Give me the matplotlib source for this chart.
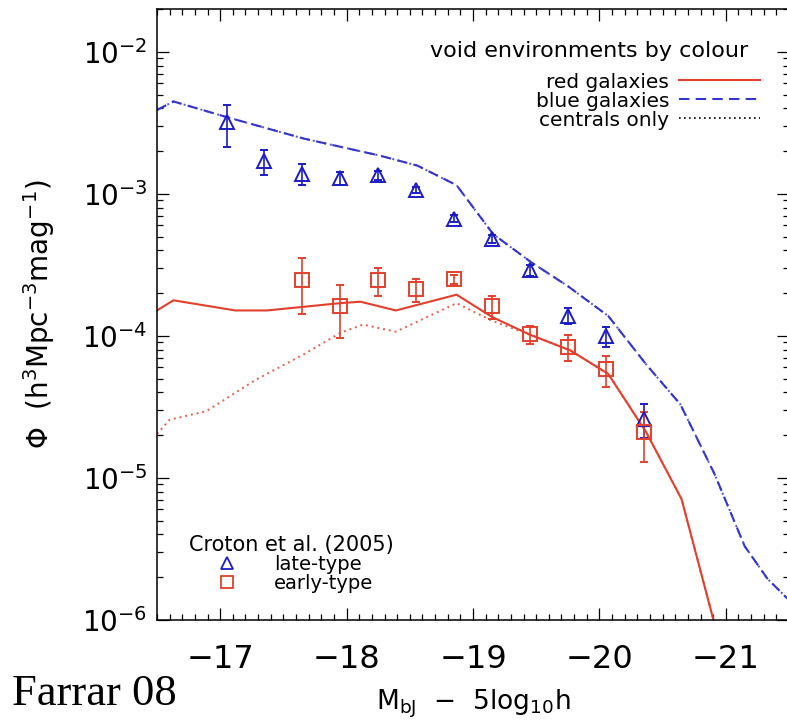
import numpy as np
import matplotlib
matplotlib.use("Agg")
import matplotlib.pyplot as plt
from matplotlib.lines import Line2D
from matplotlib.ticker import MultipleLocator, LogLocator

plt.rcParams.update({
    "font.family": "DejaVu Sans",
    "mathtext.fontset": "dejavusans",
    "axes.linewidth": 1.1,
})

RED = "#e2402c"
BLUE = "#1c1cc4"
BLUE_L = "#3535cf"

# model LFs in voids (magnitude, phi)
red_mag = [-16.50, -16.63, -17.12, -17.37, -17.95, -18.11, -18.39, -18.87,
           -19.15, -19.45, -19.77, -20.07, -20.37, -20.65, -20.90, -21.00]
red_phi = [1.51e-4, 1.78e-4, 1.51e-4, 1.51e-4, 1.70e-4, 1.74e-4, 1.51e-4, 1.95e-4,
           1.36e-4, 1.02e-4, 7.9e-5, 5.4e-5, 2.1e-5, 7.1e-6, 1.02e-6, 4.0e-7]

red_cen_mag = [-16.50, -16.60, -16.89, -17.28, -17.66, -17.95, -18.13, -18.39,
               -18.87, -19.14, -19.45, -19.77, -20.07, -20.37, -20.65, -20.90, -21.00]
red_cen_phi = [2.04e-5, 2.57e-5, 2.95e-5, 4.9e-5, 7.4e-5, 1.05e-4, 1.20e-4, 1.07e-4,
               1.70e-4, 1.29e-4, 1.02e-4, 7.9e-5, 5.4e-5, 2.1e-5, 7.1e-6, 1.02e-6, 4.0e-7]

blue_mag = [-16.50, -16.63, -17.05, -17.66, -18.26, -18.56, -18.87, -19.16, -19.46,
            -19.75, -20.07, -20.37, -20.64, -20.91, -21.15, -21.33, -21.50]
blue_phi = [3.89e-3, 4.47e-3, 3.47e-3, 2.45e-3, 1.86e-3, 1.58e-3, 1.15e-3, 5.2e-4, 3.3e-4,
            2.24e-4, 1.38e-4, 6.3e-5, 3.3e-5, 1.07e-5, 3.3e-6, 1.95e-6, 1.38e-6]
# blue centrals sit on top of the full blue LF
blue_cen_phi = list(blue_phi)

# Croton et al. (2005) void LFs
late_mag = [-17.05, -17.35, -17.65, -17.95, -18.25, -18.55, -18.85, -19.15,
            -19.45, -19.75, -20.05, -20.35]
late_phi = [3.2e-3, 1.7e-3, 1.38e-3, 1.29e-3, 1.35e-3, 1.06e-3, 6.7e-4, 4.8e-4,
            2.9e-4, 1.39e-4, 1.0e-4, 2.6e-5]
late_err = [1.05e-3, 3.5e-4, 2.3e-4, 1.3e-4, 1.0e-4, 5e-5, 4e-5, 3e-5,
            2.5e-5, 1.8e-5, 1.6e-5, 7e-6]

early_mag = [-17.65, -17.95, -18.25, -18.55, -18.85, -19.15, -19.45, -19.75, -20.05, -20.35]
early_phi = [2.47e-4, 1.62e-4, 2.47e-4, 2.13e-4, 2.5e-4, 1.62e-4, 1.03e-4, 8.4e-5, 5.8e-5, 2.1e-5]
early_err = [1.05e-4, 6.6e-5, 5.5e-5, 4.0e-5, 2.0e-5, 3.0e-5, 1.5e-5, 1.7e-5, 1.4e-5, 8e-6]

fig = plt.figure(figsize=(7.87, 7.22), dpi=100)
ax = fig.add_axes([157 / 787, 1 - 620 / 722, 632 / 787, 611 / 722])

ax.plot(red_mag, red_phi, color=RED, lw=1.5)
ax.plot(red_cen_mag, red_cen_phi, color=RED, lw=1.4, ls=(0, (1, 2)), alpha=0.85)
ax.plot(blue_mag, blue_phi, color=BLUE_L, lw=1.5, dashes=(5, 3))
ax.plot(blue_mag, blue_cen_phi, color=BLUE_L, lw=1.4, ls=(0, (1, 2)), alpha=0.85)

ax.errorbar(late_mag, late_phi, yerr=late_err, fmt="^", ms=10, mfc="none", mec=BLUE,
            mew=1.4, ecolor=BLUE, elinewidth=1.2, capsize=3, capthick=1.2)
ax.errorbar(early_mag, early_phi, yerr=early_err, fmt="s", ms=10, mfc="none", mec=RED,
            mew=1.4, ecolor=RED, elinewidth=1.2, capsize=3, capthick=1.2)

ax.set_yscale("log")
ax.set_xlim(-16.5, -21.5)
ax.set_ylim(1e-6, 2e-2)
ax.xaxis.set_major_locator(MultipleLocator(1))
ax.xaxis.set_minor_locator(MultipleLocator(0.1))
ax.yaxis.set_major_locator(LogLocator(base=10, numticks=10))
ax.yaxis.set_minor_locator(LogLocator(base=10, subs=np.arange(2, 10), numticks=10))
ax.tick_params(which="both", direction="in", top=True, right=True, width=0.9)
ax.tick_params(which="major", length=8.6)
ax.tick_params(which="minor", length=4.3)
ax.tick_params(axis="x", labelsize=23, pad=17)
ax.tick_params(axis="y", labelsize=20, pad=7)

ax.set_ylabel(r"$\Phi$  (h$^3$Mpc$^{-3}$mag$^{-1}$)", fontsize=20)
ax.yaxis.set_label_coords(-0.158, 0.5)
ax.set_xlabel(r"M$_{\rm bJ}$  $-$  5log$_{10}$h", fontsize=19)
ax.xaxis.set_label_coords(0.5, -0.111)

# model legend (upper right)
ax.text(0.935, 0.921, "void environments by colour", transform=ax.transAxes,
        ha="right", va="baseline", fontsize=16)
h_red = Line2D([], [], color=RED, lw=1.5)
h_blue = Line2D([], [], color=BLUE_L, lw=1.5, dashes=(5, 3))
h_cen = Line2D([], [], color="black", lw=1.2, ls=(0, (1, 2)))
leg1 = ax.legend([h_red, h_blue, h_cen], ["red galaxies", "blue galaxies", "centrals only"],
                 loc="upper right", bbox_to_anchor=(0.954, 0.896), frameon=False,
                 markerfirst=False, fontsize=14.5, handlelength=4.0, handletextpad=0.5,
                 labelspacing=0.0, borderpad=0, borderaxespad=0)
ax.add_artist(leg1)

# data legend (lower left)
h_late = Line2D([], [], ls="none", marker="^", ms=8, mfc="none", mec=BLUE, mew=1.3)
h_early = Line2D([], [], ls="none", marker="s", ms=8, mfc="none", mec=RED, mew=1.3)
ax.legend([h_late, h_early], ["late-type", "early-type"], title="Croton et al. (2005)",
          loc="lower left", bbox_to_anchor=(0.05, 0.044), frameon=False, fontsize=14,
          title_fontsize=15, handlelength=3.9, handletextpad=0.5, labelspacing=0.0,
          borderpad=0, borderaxespad=0, alignment="left")

fig.text(12 / 787, 1 - 705 / 722, "Farrar 08", fontsize=32, family="Liberation Serif",
         va="baseline", ha="left")

fig.savefig("out.png", dpi=100)
